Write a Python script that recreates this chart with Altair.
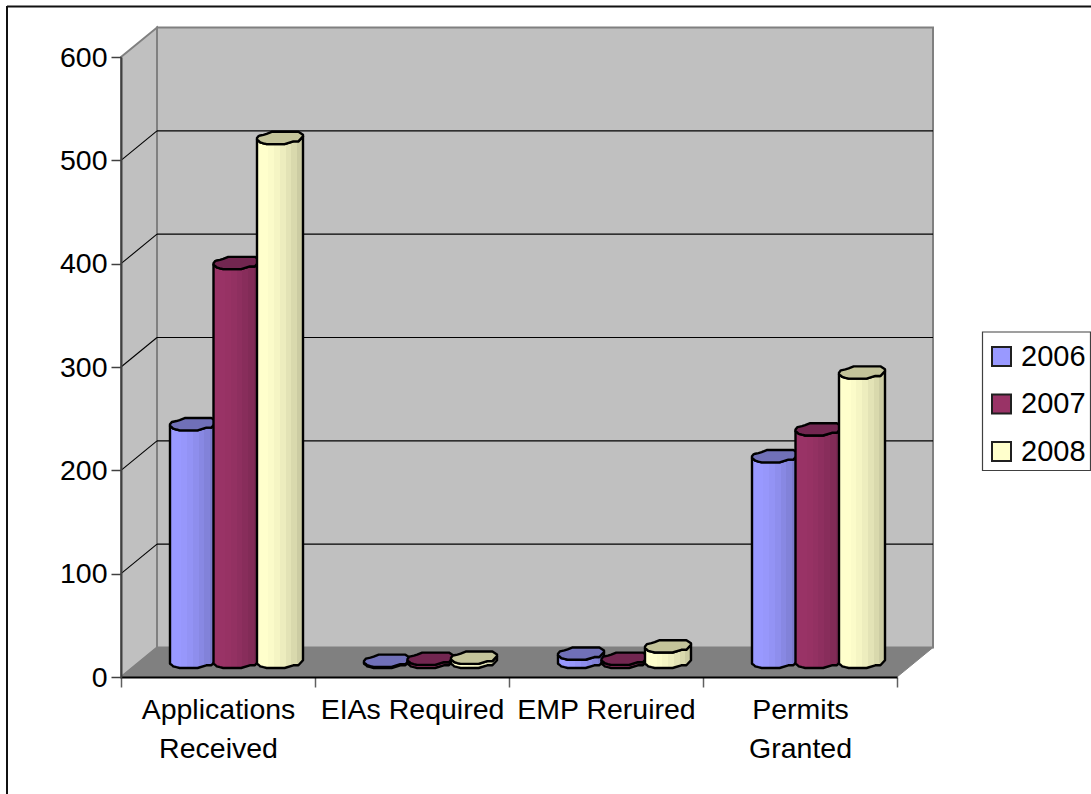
import altair as alt
import pandas as pd

# Permit statistics by category and year
categories = ["Applications Received", "EIAs Required", "EMP Reruired", "Permits Granted"]
years = ["2006", "2007", "2008"]
values_2006 = [230, 1, 8, 199]
values_2007 = [386, 3, 3, 225]
values_2008 = [507, 4, 15, 280]
y_ticks = [0, 100, 200, 300, 400, 500, 600]
grid_levels = [100, 200, 300, 400, 500]

series = dict(zip(years, [values_2006, values_2007, values_2008]))

# Chart scales: one x unit is one category, one y unit is one permit
WIDTH, HEIGHT = 776, 620
PX_X = len(categories) / WIDTH
PX_Y = 600 / HEIGHT
DEPTH_X = 36 * PX_X
DEPTH_Y = 29.5 * PX_Y
BASE = 9 * PX_Y

BAR_START = 49 * PX_X
BAR_STEP = 43.5 * PX_X
BAR_WIDTH = 46 * PX_X

# Outline of the faceted column cap, in pixels above the lowest point of the front rim
CAP_X = [0, .04, .07, .14, .21, .32, .6, .79, .9, 1]
CAP_FRONT = [4.3, 3, 1.7, .8, 0, 0, 0, 2.7, 2.7, 7.7]
CAP_BACK = [6, 8.3, 8.6, 9.3, 10.3, 12.3, 12.3, 12.3, 12.3, 9.3]

SHADE = [1, 1, .985, .96, .93, .89, .85, .8]
BASE_COLORS = {"2006": (0x99, 0x99, 0xFF), "2007": (0x99, 0x33, 0x66), "2008": (0xFF, 0xFF, 0xCC)}
CAP_COLORS = {"2006": "#7070B8", "2007": "#722650", "2008": "#C4C49A"}


def to_hex(rgb, k=1.0):
    return "#%02X%02X%02X" % tuple(round(c * k) for c in rgb)


def banded(rgb):
    stops = []
    n = len(SHADE)
    for i, k in enumerate(SHADE):
        stops.append(alt.GradientStop(offset=i / n, color=to_hex(rgb, k)))
        stops.append(alt.GradientStop(offset=(i + 1) / n, color=to_hex(rgb, k)))
    return alt.Gradient(gradient="linear", x1=0, x2=1, y1=0, y2=0, stops=stops)


def column_rows(year, k):
    rows = []
    for c, name in enumerate(categories):
        value = series[year][c]
        left = c + BAR_START + k * BAR_STEP
        for fx, front, back in zip(CAP_X, CAP_FRONT, CAP_BACK):
            rows.append({
                "cat": name,
                "x": left + fx * BAR_WIDTH,
                "bottom": BASE + front * PX_Y,
                "rim": BASE + value + front * PX_Y,
                "back": BASE + value + back * PX_Y,
            })
    return pd.DataFrame(rows)


x_q = alt.X("x:Q", scale=alt.Scale(domain=[0, len(categories)], nice=False, zero=False), axis=None)
x2_q = alt.X2("x2")
y_scale = alt.Scale(domain=[0, 600], nice=False, zero=False)
y_axis = alt.Axis(title=None, values=y_ticks, grid=False, tickSize=10, tickColor="#404040",
                  tickWidth=1.5, domainColor="#404040", domainWidth=2, labelFontSize=28.5,
                  labelFont="Liberation Sans", labelColor="#000000", labelPadding=4, zindex=2)
y_plain = alt.Y("y:Q", scale=y_scale, axis=y_axis)
y2_q = alt.Y2("y2")

n = len(categories)
walls_side = pd.DataFrame({"x": [0, DEPTH_X], "y": [600, 600 + DEPTH_Y], "y2": [0, DEPTH_Y]})
floor = pd.DataFrame({
    "x": [0, DEPTH_X, n, n + DEPTH_X],
    "y": [0, DEPTH_Y, DEPTH_Y, DEPTH_Y],
    "y2": [0, 0, 0, DEPTH_Y],
})
back_wall = pd.DataFrame({"x": [DEPTH_X], "x2": [n + DEPTH_X], "y": [DEPTH_Y], "y2": [600 + DEPTH_Y]})
grid_back = pd.DataFrame({
    "x": DEPTH_X, "x2": n + DEPTH_X,
    "y": [v + DEPTH_Y for v in grid_levels],
})
grid_side = pd.DataFrame({
    "x": 0.0, "x2": DEPTH_X, "y": grid_levels,
    "y2": [v + DEPTH_Y for v in grid_levels],
})

layers = []

# Category axis: ticks on the band edges, labels in the band centres
axis_layer = alt.Chart(pd.DataFrame({"cat": categories, "y": 0})).mark_point(opacity=0).encode(
    x=alt.X("cat:N", sort=categories,
            scale=alt.Scale(domain=categories, paddingInner=0, paddingOuter=0),
            axis=alt.Axis(title=None, labelAngle=0, tickBand="extent", tickSize=10, tickColor="#606060",
                          tickWidth=1.5, domainColor="#000000", domainWidth=2, labelFontSize=28.5,
                          labelFont="Liberation Sans", labelColor="#000000", labelPadding=8,
                          labelLimit=0, labelLineHeight=39, labelBaseline="top", zindex=2,
                          labelExpr="indexof(datum.label, 'Required') >= 0 || indexof(datum.label, 'Reruired') >= 0"
                                    " ? datum.label : split(datum.label, ' ')")),
    y=y_plain,
)
layers.append(axis_layer)

# Chart box: only its top and left edges fall on the page
layers.append(alt.Chart(pd.DataFrame({"a": [0]})).mark_rule(color="#111111", strokeWidth=2).encode(
    x=alt.value(-114), y=alt.value(-51), y2=alt.value(737)))
layers.append(alt.Chart(pd.DataFrame({"a": [0]})).mark_rule(color="#111111", strokeWidth=2).encode(
    x=alt.value(-114), x2=alt.value(970), y=alt.value(-50.5)))

# Walls and floor of the box
layers.append(alt.Chart(back_wall).mark_rect(color="#C0C0C0", stroke="#808080", strokeWidth=2).encode(
    x=x_q, x2=x2_q, y=y_plain, y2=y2_q))
layers.append(alt.Chart(walls_side).mark_area(color="#C0C0C0", stroke="#808080", strokeWidth=2).encode(
    x=x_q, y=y_plain, y2=y2_q))
layers.append(alt.Chart(floor).mark_area(color="#808080", stroke="#808080", strokeWidth=1).encode(
    x=x_q, y=y_plain, y2=y2_q))
layers.append(alt.Chart(grid_back).mark_rule(color="#000000", strokeWidth=1.1).encode(
    x=x_q, x2=x2_q, y=y_plain))
layers.append(alt.Chart(grid_side).mark_rule(color="#000000", strokeWidth=1.1).encode(
    x=x_q, x2=x2_q, y=y_plain, y2=y2_q))

# Columns, one year at a time so that later years sit in front
for k, year in enumerate(years):
    rows = column_rows(year, k)
    layers.append(alt.Chart(rows).mark_area(
        color=banded(BASE_COLORS[year]), stroke="#000000", strokeWidth=2.4, strokeJoin="round", opacity=1,
    ).encode(x=x_q, y=alt.Y("rim:Q", scale=y_scale, axis=y_axis), y2=alt.Y2("bottom"), detail="cat:N"))
    layers.append(alt.Chart(rows).mark_area(
        color=CAP_COLORS[year], stroke="#000000", strokeWidth=2.4, strokeJoin="round",
    ).encode(x=x_q, y=alt.Y("back:Q", scale=y_scale, axis=y_axis), y2=alt.Y2("rim"), detail="cat:N"))

# Legend frame
layers.append(alt.Chart(pd.DataFrame({"a": [0]})).mark_rect(
    fill="#FFFFFF", stroke="#404040", strokeWidth=1.2).encode(
    x=alt.value(861.5), x2=alt.value(969.5), y=alt.value(275), y2=alt.value(413.5)))

# Legend swatches
legend_layer = alt.Chart(pd.DataFrame({"year": years, "x": [0.0, 0.0, 0.0], "y": [0, 0, 0]})).mark_point(
    filled=True, opacity=0).encode(
    x=x_q, y=y_plain,
    color=alt.Color("year:N", sort=years,
                    scale=alt.Scale(domain=years, range=[to_hex(BASE_COLORS[y]) for y in years]),
                    legend=alt.Legend(title=None, orient="none", legendX=866, legendY=285, padding=0,
                                      symbolType="square", symbolSize=361,
                                      symbolStrokeColor="#202020", symbolStrokeWidth=2, symbolOpacity=1,
                                      labelFontSize=29, labelFont="Liberation Sans", labelColor="#000000",
                                      labelOffset=5, rowPadding=17.5, labelLimit=0)),
)
layers.append(legend_layer)

chart = alt.layer(*layers).resolve_scale(x="independent", color="independent").properties(
    width=WIDTH, height=HEIGHT,
    padding={"left": 121, "top": 57, "right": 194, "bottom": 117},
    autosize=alt.AutoSizeParams(type="none"),
    background="#FFFFFF",
).configure_view(stroke=None)

chart.save("out.html", embed_options={"renderer": "svg", "actions": False})
